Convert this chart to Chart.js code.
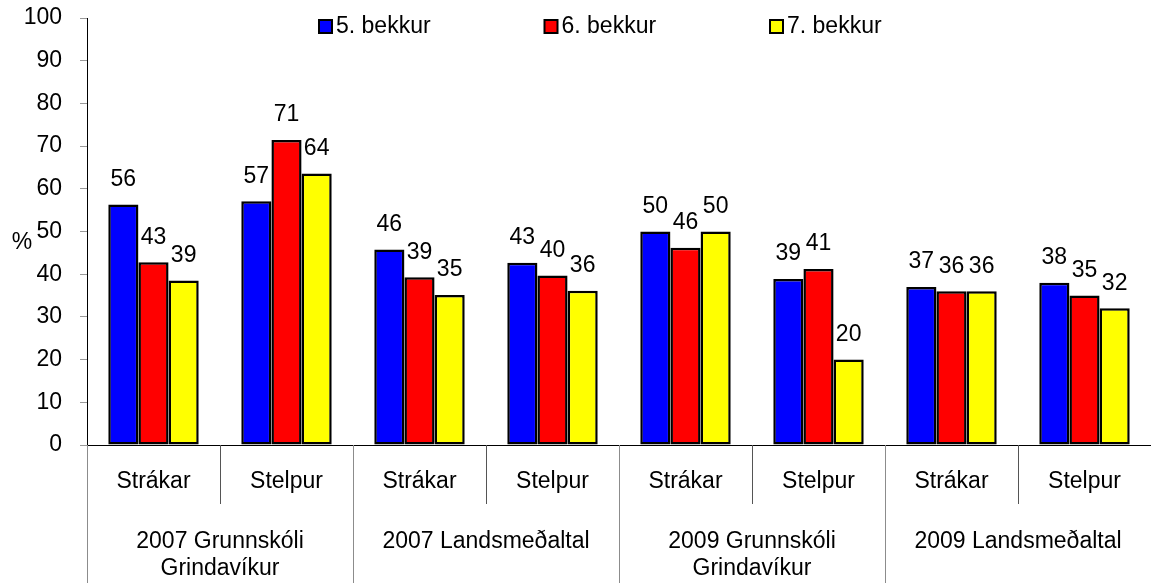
<!DOCTYPE html>
<html lang="is">
<head>
  <meta charset="UTF-8">
  <title>Bekkir</title>
  <script src="https://cdn.jsdelivr.net/npm/chart.js"></script>
  <style>
    body { margin: 0; background: #fff; }
    #wrap { width: 1151px; height: 583px; position: relative; }
  </style>
</head>
<body>
  <div id="wrap"><canvas id="bekkurChart"></canvas></div>

  <script>
    // gögn lesin af myndinni
    const undirflokkar = ['Strákar', 'Stelpur', 'Strákar', 'Stelpur', 'Strákar', 'Stelpur', 'Strákar', 'Stelpur'];
    const hopar = [
      ['2007 Grunnskóli', 'Grindavíkur'],
      ['2007 Landsmeðaltal'],
      ['2009 Grunnskóli', 'Grindavíkur'],
      ['2009 Landsmeðaltal']
    ];
    const bekkur5 = [56.3, 57.1, 45.8, 42.7, 50.0, 38.9, 37.0, 38.0];
    const bekkur6 = [42.8, 71.4, 39.3, 39.7, 46.2, 41.2, 36.0, 35.0];
    const bekkur7 = [38.5, 63.6, 35.1, 36.1, 50.0, 20.0, 36.0, 32.0];
    const seriuNofn = ['5. bekkur', '6. bekkur', '7. bekkur'];
    const litir = ['#0000ff', '#ff0000', '#ffff00'];

    const FONT = '23px "Liberation Sans", Arial, sans-serif';
    Chart.defaults.font.family = '"Liberation Sans", Arial, sans-serif';
    Chart.defaults.font.size = 23;
    Chart.defaults.color = '#000';

    // gildi ofan á súlum
    const gildaMerki = {
      id: 'gildaMerki',
      afterDatasetsDraw(chart) {
        const ctx = chart.ctx;
        ctx.save();
        ctx.font = FONT;
        ctx.fillStyle = '#000';
        ctx.textAlign = 'center';
        ctx.textBaseline = 'middle';
        chart.data.datasets.forEach((ds, di) => {
          chart.getDatasetMeta(di).data.forEach((bar, i) => {
            ctx.fillText(Math.round(ds.data[i]), bar.x, bar.y - 25);
          });
        });
        ctx.restore();
      }
    };

    // tveggja hæða flokkaás
    const flokkaAs = {
      id: 'flokkaAs',
      afterDraw(chart) {
        const ctx = chart.ctx;
        const a = chart.chartArea;
        const n = undirflokkar.length;
        const w = (a.right - a.left) / n;
        const y0 = a.bottom;
        ctx.save();
        ctx.lineWidth = 1;
        for (let i = 0; i < n; i++) {
          const x = Math.round(a.left + i * w) + 0.5;
          ctx.strokeStyle = i % 2 === 0 ? '#8c8c8c' : '#555';
          ctx.beginPath();
          ctx.moveTo(x, y0);
          ctx.lineTo(x, i % 2 === 0 ? chart.height : y0 + 59);
          ctx.stroke();
        }
        ctx.font = FONT;
        ctx.fillStyle = '#000';
        ctx.textAlign = 'center';
        ctx.textBaseline = 'middle';
        const xs = chart.scales.x;
        undirflokkar.forEach((t, i) => {
          ctx.fillText(t, xs.getPixelForValue(i), y0 + 37);
        });
        hopar.forEach((linur, g) => {
          const cx = (xs.getPixelForValue(g * 2) + xs.getPixelForValue(g * 2 + 1)) / 2;
          linur.forEach((t, k) => {
            ctx.fillText(t, cx, y0 + 97 + k * 27);
          });
        });
        // % merki
        ctx.fillText('%', 22, 243);
        ctx.restore();
      }
    };

    // skýringar efst
    const skyring = {
      id: 'skyring',
      afterDraw(chart) {
        const ctx = chart.ctx;
        ctx.save();
        ctx.font = FONT;
        ctx.textBaseline = 'middle';
        ctx.textAlign = 'left';
        seriuNofn.forEach((nafn, i) => {
          const x = 319 + i * 225.5;
          ctx.fillStyle = litir[i];
          ctx.fillRect(x, 20, 13, 13);
          ctx.strokeStyle = '#000';
          ctx.lineWidth = 2;
          ctx.strokeRect(x, 20, 13, 13);
          ctx.fillStyle = '#000';
          ctx.fillText(nafn, x + 17, 27);
        });
        ctx.restore();
      }
    };

    const rod = [bekkur5, bekkur6, bekkur7];

    new Chart(document.getElementById('bekkurChart'), {
      type: 'bar',
      data: {
        labels: undirflokkar,
        datasets: rod.map((d, i) => ({
          label: seriuNofn[i],
          data: d,
          backgroundColor: litir[i],
          borderColor: '#000',
          borderWidth: 2.5,
          borderSkipped: false,
          categoryPercentage: 0.68,
          barPercentage: 1.0
        }))
      },
      options: {
        responsive: true,
        maintainAspectRatio: false,
        animation: false,
        layout: { padding: { top: 18, bottom: 138, left: 0, right: 0 } },
        plugins: {
          legend: { display: false },
          tooltip: { enabled: false }
        },
        scales: {
          x: {
            ticks: { display: false },
            grid: { display: false, drawTicks: false },
            border: { display: true, color: '#000', width: 1 },
            afterFit(s) { s.height = 0; s.paddingLeft = 0; s.paddingRight = 0; }
          },
          y: {
            min: 0,
            max: 100,
            ticks: { stepSize: 10, padding: 18, color: '#000' },
            grid: { drawOnChartArea: false, drawTicks: true, tickLength: 7, color: '#999' },
            border: { display: true, color: '#000', width: 1 },
            afterFit(s) { s.width = 87; s.paddingTop = 0; s.paddingBottom = 0; }
          }
        }
      },
      plugins: [gildaMerki, flokkaAs, skyring]
    });
  </script>
</body>
</html>
